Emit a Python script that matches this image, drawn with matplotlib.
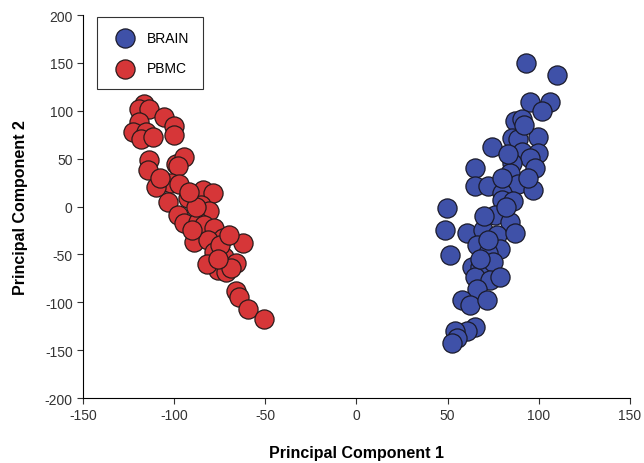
import matplotlib
matplotlib.use("Agg")
from matplotlib import pyplot as plt

# Puntos (PC1, PC2)
brain_x = [92.9, 109.9, 95.2, 106.2, 101.6, 87.0, 90.7, 99.8, 85.2, 88.8,
           74.6, 90.7, 99.8, 95.2, 98.0, 85.2, 65.0, 84.2, 88.8, 65.0,
           72.4, 97.1, 79.7, 79.7, 86.1, 49.5, 76.0, 84.2, 48.5, 60.4,
           69.6, 76.9, 87.0, 65.9, 78.7, 51.3, 72.4, 63.2, 67.7, 75.1,
           65.0, 73.2, 78.7, 65.9, 57.7, 62.3, 71.4, 65.0, 60.4, 54.0,
           54.9, 52.2, 80.0, 82.0, 70.0, 72.0, 68.0, 92.0, 83.0, 94.0]
brain_y = [150, 137, 109, 109, 100, 89, 91, 73, 72, 70,
           62, 57, 56, 51, 40, 45, 40, 35, 24, 21,
           21, 17, 14, 7, 6, -2, -9, -16, -25, -28,
           -25, -30, -28, -40, -44, -51, -49, -63, -63, -58,
           -74, -77, -74, -86, -98, -103, -98, -126, -130, -130,
           -137, -142, 30, 0, -10, -35, -55, 85, 55, 30]

pbmc_x = [-116.5, -119.2, -113.7, -119.2, -122.5, -115.4, -118.1, -111.5, -105.5, -100.0,
          -100.0, -113.7, -114.3, -98.9, -94.5, -97.8, -105.5, -101.6, -97.3, -84.1,
          -78.6, -92.3, -103.3, -85.2, -80.8, -97.8, -94.5, -86.8, -83.5, -78.0,
          -73.1, -89.0, -81.3, -78.0, -62.1, -72.5, -65.9, -75.8, -71.4, -68.7,
          -65.9, -64.3, -59.3, -50.5, -110.0, -90.0, -88.0, -75.0, -70.0, -82.0,
          -76.0, -92.0, -108.0]
pbmc_y = [107, 102, 102, 88, 78, 78, 70, 73, 93, 84,
          75, 49, 38, 44, 52, 42, 26, 25, 23, 17,
          14, 9, 5, 2, -5, -9, -17, -16, -19, -22,
          -33, -37, -35, -47, -38, -53, -59, -66, -68, -64,
          -88, -95, -107, -117, 20, -25, 0, -40, -30, -60,
          -55, 15, 30]

brain_color = "#3f51a8"
pbmc_color = "#d63638"

plt.rcParams["font.family"] = ["Liberation Sans", "DejaVu Sans"]
plt.rcParams["axes.unicode_minus"] = False

fig = plt.figure(figsize=(6.44, 4.64), dpi=100)
ax = fig.add_axes([0.129, 0.140, 0.849, 0.8255])

ax.scatter(brain_x, brain_y, s=190, c=brain_color, edgecolors="#1a1a2a",
           linewidths=0.9, label="BRAIN", zorder=3)
ax.scatter(pbmc_x, pbmc_y, s=190, c=pbmc_color, edgecolors="#2a1a1a",
           linewidths=0.9, label="PBMC", zorder=3)

ax.set_xlim(-150, 150)
ax.set_ylim(-200, 200)
ax.set_xticks(range(-150, 151, 50))
ax.set_yticks(range(-200, 201, 50))
ax.spines["top"].set_visible(False)
ax.spines["right"].set_visible(False)
ax.tick_params(direction="out", length=4, labelsize=10, colors="#333333")

ax.set_xlabel("Principal Component 1", fontsize=11.5, fontweight="bold", labelpad=16)
ax.set_ylabel("Principal Component 2", fontsize=11.5, fontweight="bold", labelpad=12)

leg = ax.legend(loc="upper left", bbox_to_anchor=(0.025, 0.995), borderaxespad=0,
                fontsize=10, frameon=True, fancybox=False, edgecolor="black",
                labelspacing=1.2, handletextpad=0.6, borderpad=1.0,
                scatterpoints=1)
leg.get_frame().set_linewidth(0.8)

fig.savefig("out.png", dpi=100)
